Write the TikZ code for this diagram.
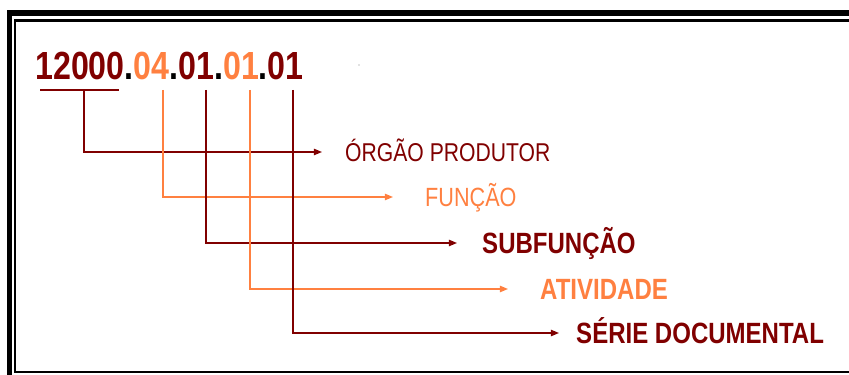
\documentclass[tikz,border=0pt]{standalone}
\usepackage{fontspec}
\setmainfont{Liberation Sans}
\newfontfamily\codefont[FakeStretch=0.82]{Liberation Sans}
\usetikzlibrary{arrows.meta}
\definecolor{darkred}{RGB}{128,0,0}
\definecolor{lightorange}{RGB}{255,128,64}
\tikzset{
  level/.style={inner sep=0pt, anchor=west, text depth=0pt},
  link/.style={line width=1.2pt, -{Triangle[length=7pt,width=5.5pt]}},
}

\begin{document}
\begin{tikzpicture}[x=0.03cm, y=-0.03cm]
        \useasboundingbox (0,0) rectangle (849,375);
        % double frame
        \begin{scope}
                \clip (0,0) rectangle (849,375);
                \draw[line width=4.7pt] (9.5,13) rectangle (900,390);
                \draw[line width=2.2pt] (15,20.5) rectangle (900,372);
        \end{scope}
        \node[inner sep=0pt, anchor=base west, font=\codefont\bfseries\fontsize{33.5}{33.5}\selectfont] (code) at (35,80)
                {\textcolor{darkred}{12000}.\textcolor{lightorange}{04}.\textcolor{darkred}{01}.\textcolor{lightorange}{01}.\textcolor{darkred}{01}};
        \fill[gray] (359,65) circle (0.5pt);
        \coordinate (ul1) at (40,90);
        \coordinate (ul2) at (119,90);
        \draw[darkred, line width=1.2pt] (ul1) -- (ul2);
        \foreach \nm/\xl/\yl/\xt/\g/\col/\w/\s/\txt [evaluate=\g as \gap using \g*0.03, evaluate=\s as \capht using \s*0.716] in {
                orgao/84/152/345/23/darkred/\mdseries/22/ÓRGÃO PRODUTOR,
                funcao/163/197/425/32/lightorange/\mdseries/22.5/FUNÇÃO,
                subfuncao/206/243/482/25/darkred/\bfseries/25/SUBFUNÇÃO,
                atividade/250/289/540/32/lightorange/\bfseries/25/ATIVIDADE,
                serie/293/333/576/17/darkred/\bfseries/25/SÉRIE DOCUMENTAL} {
                \node[level, text=\col, text height=\capht pt, font=\codefont\w\fontsize{\s}{\s}\selectfont] (\nm) at (\xt,\yl) {\txt};
                \coordinate (\nm top) at (\xl,90);
                \draw[link, \col, shorten >=\gap cm] (\nm top) |- (\nm.west);
            }
\end{tikzpicture}
\end{document}
